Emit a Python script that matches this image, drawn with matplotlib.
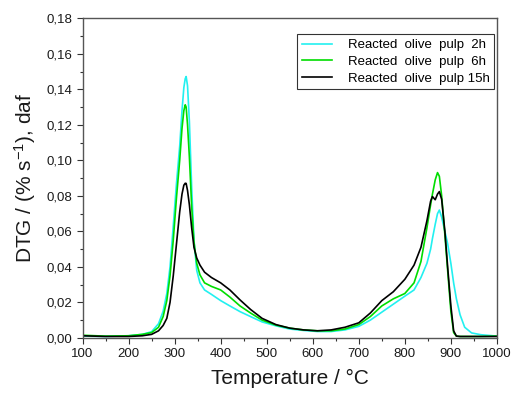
import matplotlib
matplotlib.use("Agg")
import matplotlib.pyplot as plt
from matplotlib.ticker import MultipleLocator, FuncFormatter

plt.rcParams['font.family'] = ['Liberation Sans', 'DejaVu Sans']
plt.rcParams['mathtext.fontset'] = 'custom'
plt.rcParams['mathtext.rm'] = 'Liberation Sans'
plt.rcParams['mathtext.it'] = 'Liberation Sans'

temp = [100, 150, 200, 230, 250, 265, 275, 283, 290, 297, 304, 311, 316, 320, 323, 325,
        328, 332, 337, 342, 348, 355, 365, 380, 400, 420, 442, 465, 490, 520, 550, 580,
        610, 640, 670, 700, 725, 750, 775, 800, 820, 835, 848, 856, 860, 866, 871, 875,
        880, 887, 893, 900, 906, 912, 920, 930, 945, 965, 1000]

dtg_2h = [0.0010, 0.0008, 0.0012, 0.0020, 0.0035, 0.0080, 0.0150, 0.0250, 0.0400, 0.0630,
          0.0870, 0.1080, 0.1280, 0.1410, 0.1460, 0.1472, 0.1420, 0.1220, 0.0850, 0.0550,
          0.0380, 0.0310, 0.0270, 0.0245, 0.0210, 0.0180, 0.0148, 0.0120, 0.0090, 0.0068,
          0.0050, 0.0042, 0.0036, 0.0036, 0.0045, 0.0065, 0.0100, 0.0145, 0.0190, 0.0235,
          0.0270, 0.0340, 0.0420, 0.0500, 0.0560, 0.0640, 0.0700, 0.0720, 0.0680, 0.0600,
          0.0530, 0.0420, 0.0310, 0.0220, 0.0130, 0.0060, 0.0028, 0.0018, 0.0010]

dtg_6h = [0.0015, 0.0010, 0.0012, 0.0020, 0.0030, 0.0060, 0.0120, 0.0210, 0.0350, 0.0550,
          0.0790, 0.1000, 0.1180, 0.1280, 0.1313, 0.1300, 0.1200, 0.1020, 0.0740, 0.0540,
          0.0420, 0.0355, 0.0310, 0.0290, 0.0270, 0.0230, 0.0180, 0.0140, 0.0100, 0.0072,
          0.0055, 0.0045, 0.0040, 0.0040, 0.0050, 0.0075, 0.0120, 0.0180, 0.0220, 0.0250,
          0.0310, 0.0430, 0.0620, 0.0750, 0.0810, 0.0890, 0.0931, 0.0910, 0.0800, 0.0580,
          0.0380, 0.0150, 0.0030, 0.0010, 0.0008, 0.0008, 0.0008, 0.0008, 0.0010]

dtg_15h = [0.0012, 0.0008, 0.0008, 0.0012, 0.0020, 0.0040, 0.0070, 0.0110, 0.0200, 0.0350,
           0.0530, 0.0710, 0.0810, 0.0860, 0.0871, 0.0870, 0.0830, 0.0750, 0.0620, 0.0510,
           0.0450, 0.0410, 0.0370, 0.0340, 0.0310, 0.0270, 0.0214, 0.0160, 0.0110, 0.0075,
           0.0055, 0.0045, 0.0040, 0.0045, 0.0060, 0.0085, 0.0140, 0.0210, 0.0260, 0.0330,
           0.0410, 0.0510, 0.0660, 0.0770, 0.0796, 0.0778, 0.0810, 0.0824, 0.0780, 0.0600,
           0.0400, 0.0180, 0.0040, 0.0010, 0.0008, 0.0008, 0.0008, 0.0008, 0.0008]

labels = ["Reacted  olive  pulp  2h", "Reacted  olive  pulp  6h", "Reacted  olive  pulp 15h"]
colors = ["#22F0F0", "#00DD00", "black"]

fig = plt.figure(figsize=(5.16, 3.98), dpi=100)
ax = fig.add_axes([0.160, 0.151, 0.803, 0.803])

for vals, lab, col in zip([dtg_2h, dtg_6h, dtg_15h], labels, colors):
    ax.plot(temp, vals, color=col, lw=1.2, label=lab)

ax.set_xlim(100, 1000)
ax.set_ylim(0, 0.18)
ax.xaxis.set_major_locator(MultipleLocator(100))
ax.xaxis.set_minor_locator(MultipleLocator(50))
ax.yaxis.set_major_locator(MultipleLocator(0.02))
ax.yaxis.set_minor_locator(MultipleLocator(0.01))
ax.yaxis.set_major_formatter(FuncFormatter(lambda v, p: f"{v:.2f}".replace('.', ',')))
ax.tick_params(which='major', direction='out', length=4, width=0.8, labelsize=9.5, colors='#333333')
ax.tick_params(which='minor', direction='out', length=2.5, width=0.8, colors='#333333')
ax.tick_params(labelcolor='#1a1a1a')
for s in ax.spines.values():
    s.set_color('#555555')
    s.set_linewidth(1.0)

ax.set_xlabel("Temperature / °C", fontsize=15, color='#1a1a1a', labelpad=6)
ax.set_ylabel("DTG / (% s$^{\\mathregular{-1}}$), daf", fontsize=15, color='#1a1a1a', labelpad=6)

leg = ax.legend(loc='upper right', fontsize=9.5, frameon=True, fancybox=False,
                edgecolor='black', borderpad=0.35, handlelength=2.3, handletextpad=1.2,
                labelspacing=0.35, borderaxespad=0, bbox_to_anchor=(0.9935, 0.95))
leg.get_frame().set_linewidth(0.8)

plt.savefig("out.png", dpi=100)
